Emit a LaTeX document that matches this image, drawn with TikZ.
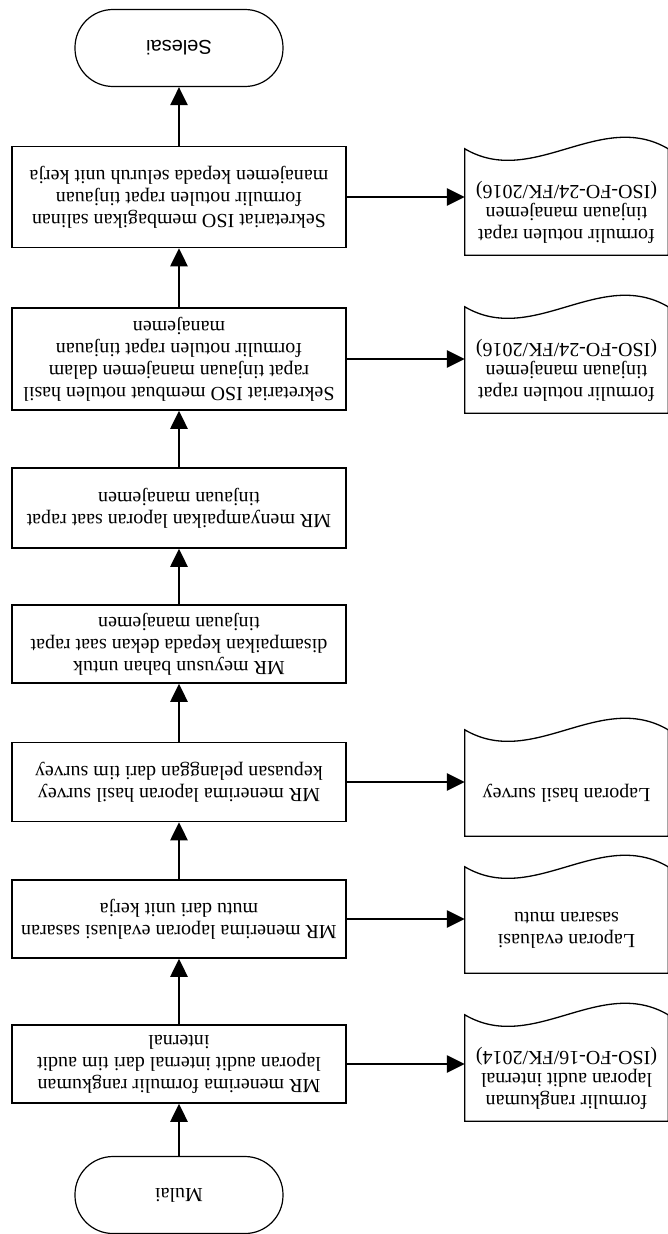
\documentclass[tikz,border=0pt]{standalone}
\usepackage{fontspec}
\setmainfont{Liberation Serif}
\newfontfamily\sansfont{Liberation Sans}
\usetikzlibrary{arrows.meta,calc}
\tikzset{
  arrow/.style={-{Triangle[length=18pt,width=17pt]}, line width=2.6pt},
  procbox/.style={draw, line width=1.5pt, minimum width=334pt, inner sep=0pt, align=center, font=\fontsize{20}{22}\selectfont},
  termnode/.style={draw, line width=1.2pt, rounded corners=38pt, minimum width=208pt, minimum height=77pt, inner sep=0pt, font=\fontsize{20}{22}\selectfont},
  docnode/.style={minimum width=203pt, minimum height=86pt, inner sep=0pt, align=center, font=\fontsize{20}{22}\selectfont},
  docline/.style={line width=1.3pt},
}
\begin{document}
\begin{tikzpicture}[x=1pt, y=1pt, rotate=180, transform shape]
  \useasboundingbox (0,0) rectangle (668,1234);
  % process column
  \node[termnode] (mulai) at (489,1195) {Mulai};
  \node[procbox, minimum height=78pt] (box1) at (489,1064) {MR menerima formulir rangkuman\\laporan audit internal dari tim audit\\internal};
  \node[procbox, minimum height=78pt] (box2) at (489,919) {MR menerima laporan evaluasi sasaran\\mutu dari unit kerja};
  \node[procbox, minimum height=79pt] (box3) at (489,782) {MR menerima laporan hasil survey\\kepuasan pelanggan dari tim survey};
  \node[procbox, minimum height=78pt] (box4) at (489,644) {MR meyusun bahan untuk\\disampaikan kepada dekan saat rapat\\tinjauan manajemen};
  \node[procbox, minimum height=80pt] (box5) at (489,508) {MR menyampaikan laporan saat rapat\\tinjauan manajemen};
  \node[procbox, minimum height=102pt] (box6) at (489,359) {Sekretariat ISO membuat notulen hasil\\rapat tinjauan manajemen dalam\\formulir notulen rapat tinjauan\\manajemen};
  \node[procbox, minimum height=101pt] (box7) at (489,197) {Sekretariat ISO membagikan salinan\\formulir notulen rapat tinjauan\\manajemen kepada seluruh unit kerja};
  \node[termnode, font=\sansfont\fontsize{20}{22}\selectfont] (selesai) at (489,48) {Selesai};
  % documents
  \node[docnode] (doc1) at (101.5,1078) {formulir rangkuman\\laporan audit internal\\(ISO-FO-16/FK/2014)};
  \node[docnode] (doc2) at (101.5,930) {Laporan evaluasi\\sasaran mutu};
  \node[docnode] (doc3) at (101.5,793) {Laporan hasil survey};
  \node[docnode] (doc6) at (101.5,370) {formulir notulen rapat\\tinjauan manajemen\\(ISO-FO-24/FK/2016)};
  \node[docnode] (doc7) at (101.5,212) {formulir notulen rapat\\tinjauan manajemen\\(ISO-FO-24/FK/2016)};
  \foreach \d in {doc1,doc2,doc3,doc6,doc7}
    \draw[docline] (\d.north west) -- (\d.north east) -- ($(\d.south east)+(0,-20)$)
      .. controls +(-68,40) and +(68,-40) .. ($(\d.south west)+(0,-20)$) -- cycle;
  % connectors
  \draw[arrow] (mulai) -- (box1);
  \foreach \a/\b in {box1/box2,box2/box3,box3/box4,box4/box5,box5/box6,box6/box7,box7/selesai}
    \draw[arrow] (\a) -- (\b);
  \foreach \b/\d in {box1/doc1,box2/doc2,box3/doc3,box6/doc6,box7/doc7}
    \draw[arrow] (\b.west) -- (\b.west -| \d.east);
\end{tikzpicture}
\end{document}
